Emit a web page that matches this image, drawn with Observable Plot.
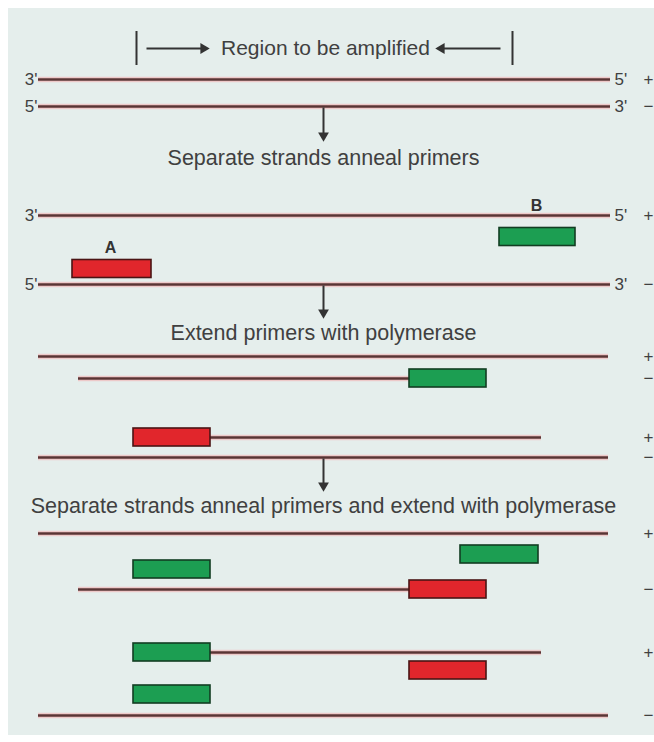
<!DOCTYPE html>
<html>
<head>
<meta charset="utf-8">
<script src="https://cdn.jsdelivr.net/npm/d3@7"></script>
<script src="https://cdn.jsdelivr.net/npm/@observablehq/plot@0.6"></script>
<style>
  html, body { margin: 0; padding: 0; background: #ffffff; }
  #chart { width: 654px; height: 742px; }
</style>
</head>
<body>
<div id="chart"></div>
<script>
// ---- Diagram data (pixel-space units of the diagram) ----
// DNA strands: start, end, row
const strandX1 = [38, 38, 38, 38, 38, 78, 210, 38, 38, 78, 210, 38];
const strandX2 = [610, 610, 610, 610, 608, 410, 541, 608, 608, 410, 541, 608];
const strandRow = [79, 106, 215, 284, 356, 378, 437, 457, 533, 589, 652, 715];

// Primers: kind (A = red, B = green), start, end, row centre
const primerKind = ["B", "A", "B", "A", "B", "B", "A", "B", "A", "B"];
const primerX1 = [499, 72, 409, 133, 460, 133, 409, 133, 409, 133];
const primerX2 = [575, 151, 486, 210, 538, 210, 486, 210, 486, 210];
const primerRow = [236.5, 268.5, 378, 437, 554, 569, 589, 652, 670, 694];

// Strand end labels
const leftEndLabels = ["3'", "5'", "3'", "5'"];
const leftEndRows = [79, 106, 215, 284];
const rightEndLabels = ["5'", "3'", "5'", "3'"];
const rightEndRows = [79, 106, 215, 284];

// Strand sense labels
const senseLabels = ["+", "−", "+", "−", "+", "−", "+", "−", "+", "−", "+", "−"];
const senseRows = [79, 106, 215, 284, 356, 378, 437, 457, 533, 589, 652, 715];

// Primer name labels
const primerNames = ["A", "B"];
const primerNameX = [110, 536];
const primerNameY = [247, 205];

// Step captions
const stepTexts = [
  "Separate strands anneal primers",
  "Extend primers with polymerase",
  "Separate strands anneal primers and extend with polymerase"
];
const stepRows = [158, 333, 506];

// Down arrows between steps: from strand row to arrow tip
const downArrowFrom = [107, 285, 458];
const downArrowTo = [139, 316, 489];

// Header: region to be amplified
const headerText = "Region to be amplified";
const bracketX = [136, 512];
const headerArrowFrom = [146, 500];
const headerArrowTo = [207, 437];

// ---- Build tables ----
const strands = strandRow.map((y, i) => ({x1: strandX1[i], x2: strandX2[i], y}));
const primers = primerRow.map((y, i) => ({kind: primerKind[i], x1: primerX1[i], x2: primerX2[i], y}));
const leftEnds = leftEndRows.map((y, i) => ({label: leftEndLabels[i], y}));
const rightEnds = rightEndRows.map((y, i) => ({label: rightEndLabels[i], y}));
const senses = senseRows.map((y, i) => ({label: senseLabels[i], y}));
const names = primerNames.map((n, i) => ({label: n, x: primerNameX[i], y: primerNameY[i]}));
const steps = stepTexts.map((t, i) => ({label: t, y: stepRows[i]}));
const downArrows = downArrowFrom.map((y1, i) => ({y1, y2: downArrowTo[i]}));
const headerArrows = headerArrowFrom.map((x1, i) => ({x1, x2: headerArrowTo[i], dir: x1 < headerArrowTo[i] ? 1 : -1}));

const W = 654, H = 742;
const centerX = 323;
const headerY = 48;
const textColor = "#404040";
const inkColor = "#333333";
const primerH = 9;

const chart = Plot.plot({
  width: W,
  height: H,
  margin: 0,
  x: {domain: [0, W], range: [0, W], axis: null},
  y: {domain: [0, H], range: [0, H], axis: null},
  style: {background: "#ffffff", fontFamily: "'Liberation Sans', Arial, sans-serif"},
  marks: [
    // background panel
    Plot.rect([{}], {x1: 8, x2: W, y1: 8, y2: H - 7, fill: "#e5eeec"}),
    // header bracket
    Plot.ruleX(bracketX, {x: d => d, y1: 31, y2: 65, stroke: inkColor, strokeWidth: 2}),
    Plot.link(headerArrows, {x1: "x1", x2: d => d.x2 - d.dir * 6, y1: headerY, y2: headerY, stroke: inkColor, strokeWidth: 2}),
    Plot.dot(headerArrows, {x: d => d.x2 - d.dir * 4, y: headerY, symbol: "triangle", r: 4, fill: inkColor, stroke: null, rotate: d => d.dir > 0 ? 90 : -90}),
    Plot.text([headerText], {x: 325, y: headerY, text: d => d, fontSize: 21, fill: textColor, textAnchor: "middle"}),
    // strands: halo then core
    Plot.ruleY(strands, {y: "y", x1: "x1", x2: "x2", stroke: "#edc9c9", strokeWidth: 5.5}),
    Plot.ruleY(strands, {y: "y", x1: "x1", x2: "x2", stroke: "#5a3434", strokeWidth: 2.4}),
    // primers
    Plot.rect(primers, {
      x1: "x1", x2: "x2",
      y1: d => d.y - primerH, y2: d => d.y + primerH,
      fill: d => d.kind === "A" ? "#e1262c" : "#1c9e52",
      stroke: d => d.kind === "A" ? "#4a1414" : "#123d22",
      strokeWidth: 1.6
    }),
    // strand end labels
    Plot.text(leftEnds, {x: 37, y: "y", text: "label", textAnchor: "end", fontSize: 17, fill: textColor}),
    Plot.text(rightEnds, {x: 614, y: "y", text: "label", textAnchor: "start", fontSize: 17, fill: textColor}),
    Plot.text(senses, {x: 648, y: "y", text: "label", textAnchor: "middle", fontSize: 17, fill: textColor}),
    // primer names
    Plot.text(names, {x: "x", y: "y", text: "label", fontSize: 16, fontWeight: "bold", fill: "#333"}),
    // down arrows
    Plot.link(downArrows, {x1: centerX, x2: centerX, y1: "y1", y2: d => d.y2 - 6, stroke: inkColor, strokeWidth: 2}),
    Plot.dot(downArrows, {x: centerX, y: d => d.y2 - 4, symbol: "triangle", r: 4, fill: inkColor, stroke: null, rotate: 180}),
    // step captions
    Plot.text(steps, {x: centerX, y: "y", text: "label", fontSize: 21.5, fill: textColor, textAnchor: "middle"})
  ]
});
document.getElementById("chart").append(chart);
</script>
</body>
</html>
